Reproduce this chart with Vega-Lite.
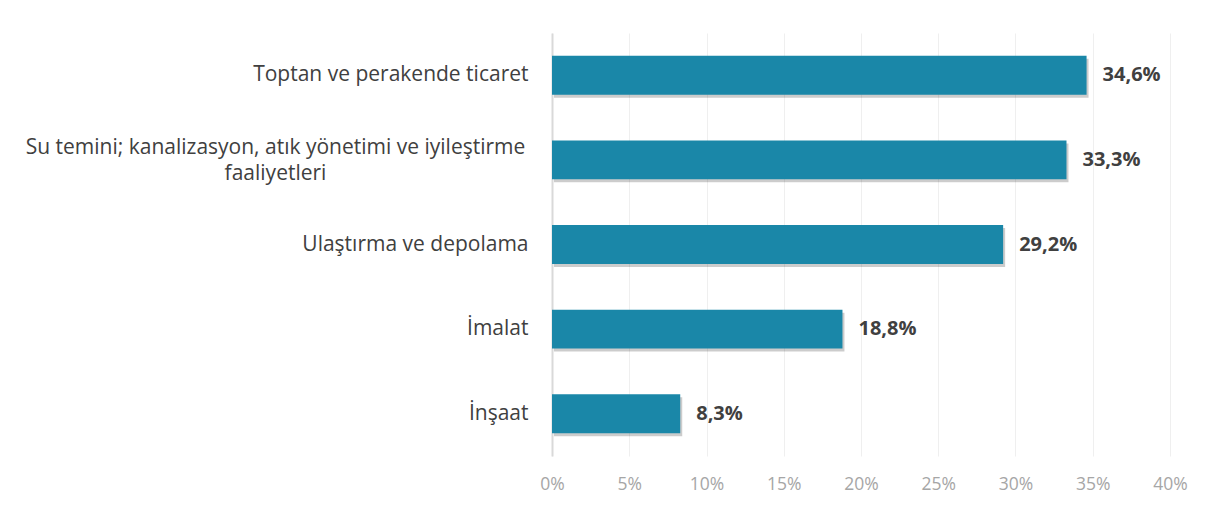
{
  "$schema": "https://vega.github.io/schema/vega-lite/v6.json",
  "autosize": "none",
  "width": 618,
  "height": 423,
  "padding": {"left": 552, "top": 33, "right": 49, "bottom": 57},
  "background": "white",
  "config": {
    "view": {"stroke": null},
    "font": "Open Sans",
    "locale": {"number": {"decimal": ",", "thousands": ".", "grouping": [3], "currency": ["", " TL"]}}
  },
  "data": {
    "values": [
      {"sektor": "Toptan ve perakende ticaret", "oran": 0.346},
      {"sektor": "Su temini; kanalizasyon, atık yönetimi ve iyileştirme faaliyetleri", "oran": 0.333},
      {"sektor": "Ulaştırma ve depolama", "oran": 0.292},
      {"sektor": "İmalat", "oran": 0.188},
      {"sektor": "İnşaat", "oran": 0.083}
    ]
  },
  "encoding": {
    "y": {
      "field": "sektor",
      "type": "nominal",
      "sort": null,
      "scale": {"paddingInner": 0.54, "paddingOuter": 0.27},
      "axis": {
        "title": null,
        "domain": true,
        "domainColor": "#d9d9d9",
        "domainWidth": 2,
        "ticks": false,
        "labelFont": "Open Sans",
        "labelFontSize": 21,
        "labelColor": "#404040",
        "labelLimit": 700,
        "labelLineHeight": 26,
        "labelExpr": "indexof(datum.value, 'Su temini') == 0 ? ['Su temini; kanalizasyon, atık yönetimi ve iyileştirme', 'faaliyetleri'] : datum.label",
        "labelAlign": {"condition": {"test": "indexof(datum.value, 'Su temini') == 0", "value": "center"}, "value": "right"},
        "labelPadding": {"condition": {"test": "indexof(datum.value, 'Su temini') == 0", "value": 277}, "value": 24},
        "labelOffset": {"condition": {"test": "indexof(datum.value, 'Su temini') == 0", "value": -12}, "value": 0}
      }
    },
    "x": {
      "field": "oran",
      "type": "quantitative",
      "scale": {"domain": [0, 0.4]},
      "axis": {
        "title": null,
        "format": ".0%",
        "values": [0, 0.05, 0.1, 0.15, 0.2, 0.25, 0.3, 0.35, 0.4],
        "labelOverlap": false,
        "labelFlush": false,
        "domain": false,
        "ticks": false,
        "grid": true,
        "gridColor": "#efefef",
        "gridWidth": 1,
        "labelFont": "Open Sans",
        "labelFontSize": 17.5,
        "labelColor": "#a6a6a6",
        "labelPadding": 19
      }
    }
  },
  "layer": [
    {
      "mark": {"type": "bar", "color": "#000000", "opacity": 0.2, "xOffset": 2, "yOffset": 3}
    },
    {
      "mark": {"type": "bar", "color": "#1a87a8"}
    },
    {
      "mark": {"type": "text", "align": "left", "dx": 16, "font": "Open Sans", "fontSize": 20, "fontWeight": "bold", "color": "#404040"},
      "encoding": {"text": {"field": "oran", "type": "quantitative", "format": ".1%"}}
    }
  ]
}
